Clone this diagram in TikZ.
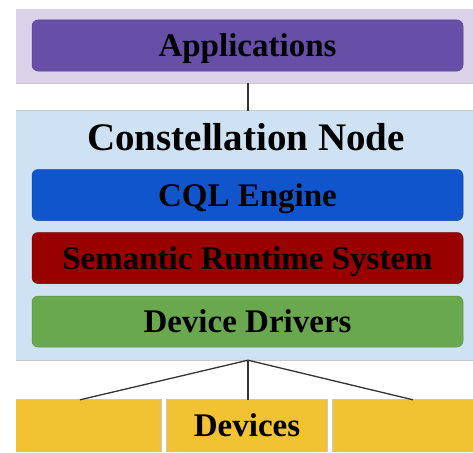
\documentclass[tikz,border=0pt]{standalone}
\usepackage{fontspec}
\setmainfont{Liberation Serif}
\usetikzlibrary{calc}
\definecolor{bandpurple}{HTML}{D9D2E9}
\definecolor{boxpurple}{HTML}{674EA7}
\definecolor{bandblue}{HTML}{CFE2F3}
\definecolor{boxblue}{HTML}{1155CC}
\definecolor{boxred}{HTML}{990000}
\definecolor{boxgreen}{HTML}{6AA84F}
\definecolor{boxyellow}{HTML}{F1C232}
\definecolor{linegray}{HTML}{333333}
\tikzset{
  band/.style={inner sep=0pt, minimum width=457pt},
  bandedge/.style={draw=black!22, line width=1pt},
  layer/.style={fill=#1, draw=#1!85!black, line width=0.5pt, rounded corners=6pt,
    inner sep=0pt, minimum width=431pt, minimum height=51pt,
    font=\fontsize{33}{36}\selectfont\bfseries, text height=30pt, text depth=7.6pt},
  device/.style={fill=boxyellow, inner sep=0pt,
    minimum height=52pt, font=\fontsize{33}{36}\selectfont\bfseries,
    text height=30pt, text depth=8.6pt},
  conn/.style={draw=linegray, line width=1.3pt}
}
\begin{document}
\begin{tikzpicture}[x=1pt,y=-1pt]
\useasboundingbox (0,0) rectangle (473,452);
% bands
\node[band, fill=bandpurple, minimum height=74pt] (appband) at (244.5,46) {};
\node[band, fill=bandblue, minimum height=249pt] (cband) at (244.5,235.5) {};
\draw[bandedge] (appband.south west) -- (appband.south east);
\draw[bandedge] (cband.north west) -- (cband.north east);
\draw[bandedge] (cband.south west) -- (cband.south east);
% application layer
\node[layer=boxpurple] (apps) at (247.5,45.5) {Applications};
% constellation node
\node[anchor=base, font=\fontsize{39}{42}\selectfont\bfseries] (ctitle) at (246,150) {Constellation Node};
\node[layer=boxblue] (cql) at (247.5,195) {CQL Engine};
\node[layer=boxred] (srs) at (247.5,258) {Semantic Runtime System};
\node[layer=boxgreen] (dd) at (247.5,321.5) {Device Drivers};
% devices
\node[device, minimum width=145pt] (d1) at (88.5,426) {};
\node[device, minimum width=160pt] (d2) at (247,426) {Devices};
\node[device, minimum width=140pt] (d3) at (403,426) {};
\draw[bandedge] (d1.north west) -- (d1.north east) -- (d1.south east);
\draw[bandedge] (d2.south west) -- (d2.north west) -- (d2.north east) -- (d2.south east);
\draw[bandedge] (d3.south west) -- (d3.north west) -- (d3.north east);
% connectors
\coordinate (hub) at ($(cband.south)+(3.5,0)$);
\draw[conn] ($(appband.south)+(3.5,0)$) -- ($(cband.north)+(3.5,0)$);
\draw[conn] (hub) -- ($(d1.north)+(-8.5,0)$);
\draw[conn] (hub) -- (d2.north -| hub);
\draw[conn] (hub) -- ($(d3.north)+(10,0)$);
\end{tikzpicture}
\end{document}
